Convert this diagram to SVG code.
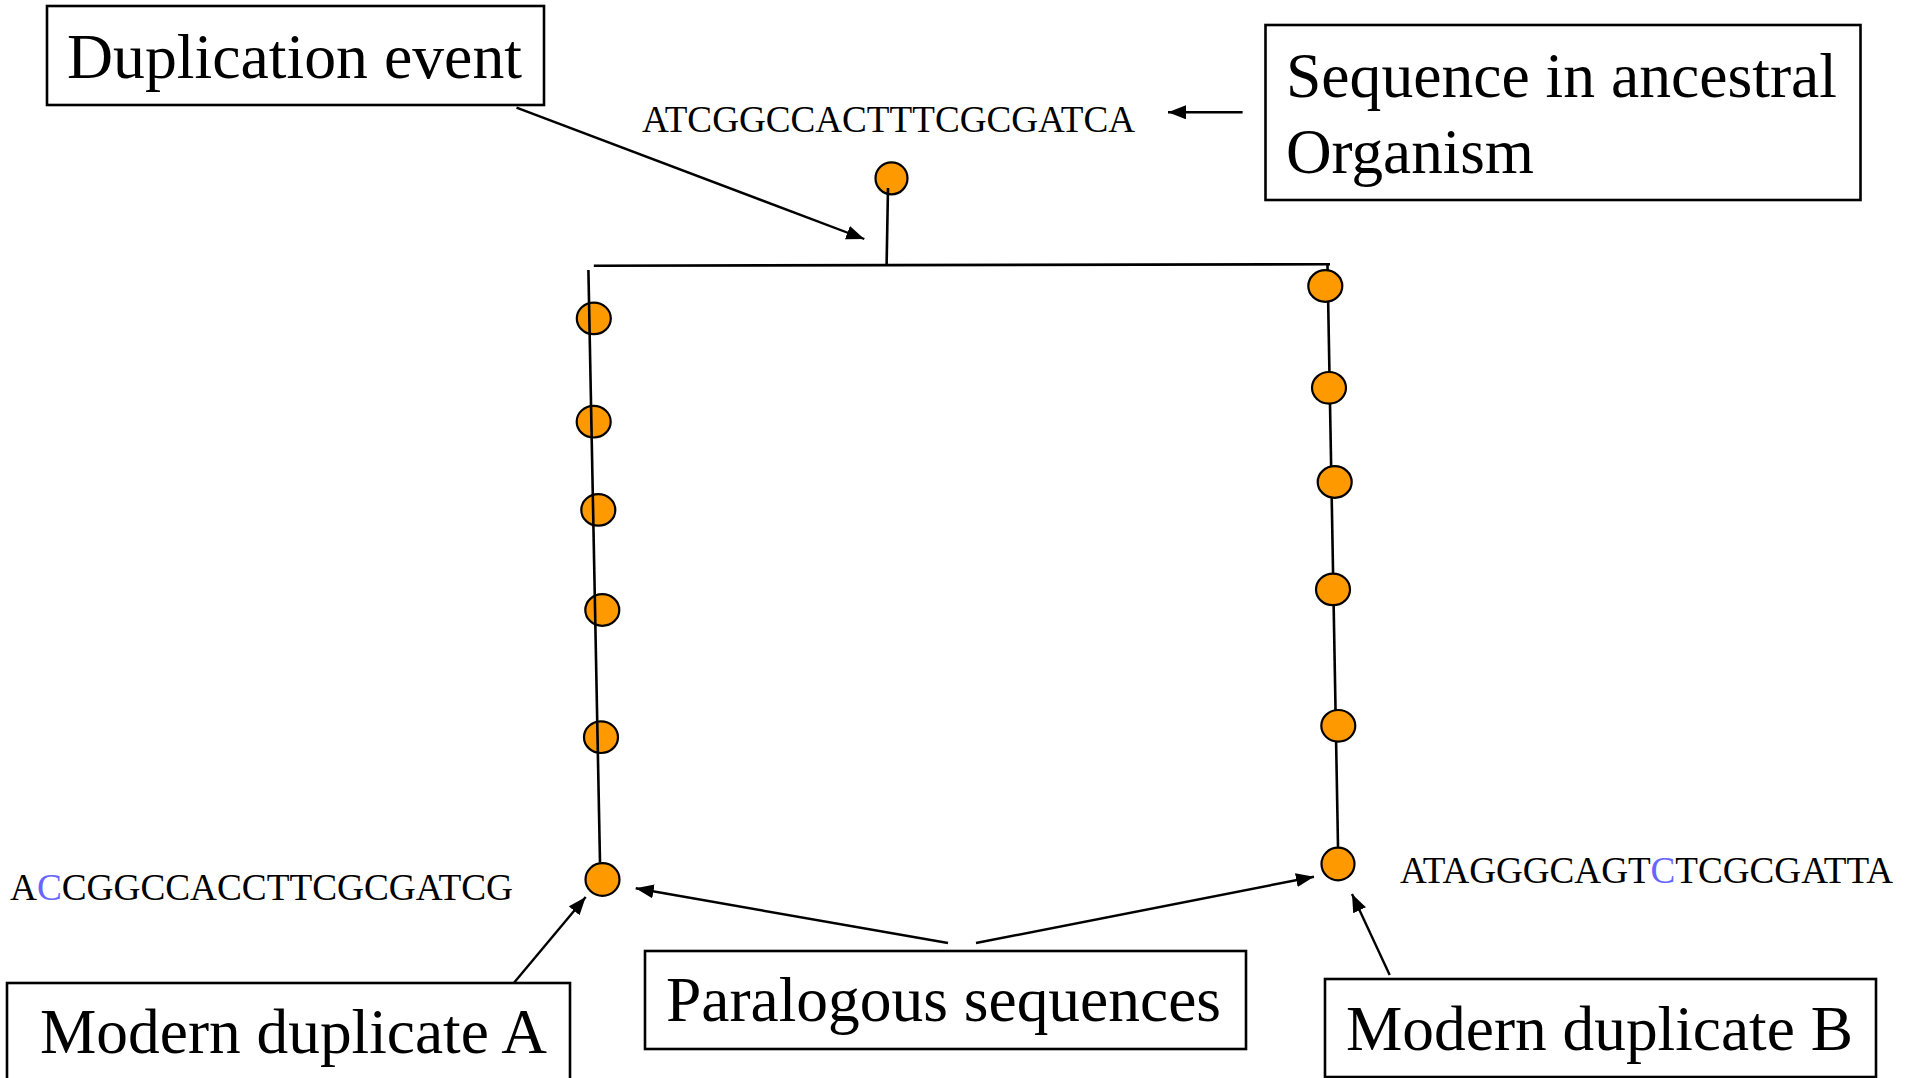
<svg xmlns="http://www.w3.org/2000/svg" width="1918" height="1078" viewBox="0 0 1918 1078">
  <style>
    .box { fill: #ffffff; stroke: #000000; stroke-width: 2.6; }
    .label { font-family: "Liberation Serif", "Times New Roman", serif; font-size: 63px; fill: #000000; }
    .seq { font-family: "Liberation Serif", "Times New Roman", serif; font-size: 37px; fill: #000000; }
    .mut { fill: #6666ff; }
    .branch { stroke: #000000; stroke-width: 2.6; fill: none; }
    .arrow { stroke: #000000; stroke-width: 2.4; fill: none; marker-end: url(#head); }
    .site { fill: #ff9900; stroke: #000000; stroke-width: 2.2; }
  </style>
  <defs>
    <marker id="head" markerUnits="userSpaceOnUse" markerWidth="20" markerHeight="16" refX="18" refY="7" orient="auto">
      <path d="M0,0 L18,7 L0,14 Z" fill="#000000"/>
    </marker>
  </defs>

  <rect width="1918" height="1078" fill="#ffffff"/>

  <!-- label boxes -->
  <g id="duplication-event">
    <rect class="box" x="47" y="6" width="497" height="99"/>
    <text class="label" x="67" y="78" textLength="455" lengthAdjust="spacingAndGlyphs">Duplication event</text>
  </g>

  <g id="ancestral-sequence-label">
    <rect class="box" x="1265.5" y="25" width="595" height="175"/>
    <text class="label" x="1286" y="97" textLength="551" lengthAdjust="spacingAndGlyphs">Sequence in ancestral</text>
    <text class="label" x="1286" y="173" textLength="248" lengthAdjust="spacingAndGlyphs">Organism</text>
  </g>

  <g id="modern-duplicate-a">
    <rect class="box" x="7" y="983" width="563" height="100"/>
    <text class="label" x="40" y="1053" textLength="507" lengthAdjust="spacingAndGlyphs">Modern duplicate A</text>
  </g>

  <g id="paralogous-sequences">
    <rect class="box" x="645" y="951" width="601" height="98"/>
    <text class="label" x="666" y="1021" textLength="555" lengthAdjust="spacingAndGlyphs">Paralogous sequences</text>
  </g>

  <g id="modern-duplicate-b">
    <rect class="box" x="1325" y="979" width="551" height="98"/>
    <text class="label" x="1346" y="1050" textLength="507" lengthAdjust="spacingAndGlyphs">Modern duplicate B</text>
  </g>

  <!-- sequences -->
  <g id="ancestral-sequence">
    <text class="seq" x="642" y="132" textLength="493" lengthAdjust="spacingAndGlyphs">ATCGGCCACTTTCGCGATCA</text>
  </g>
  <g id="sequence-a">
    <text class="seq" x="10" y="900" textLength="503" lengthAdjust="spacingAndGlyphs">A<tspan class="mut">C</tspan>CGGCCACCTTCGCGATCG</text>
  </g>
  <g id="sequence-b">
    <text class="seq" x="1400" y="883" textLength="493" lengthAdjust="spacingAndGlyphs">ATAGGGCAGT<tspan class="mut">C</tspan>TCGCGATTA</text>
  </g>

  <!-- ancestral node -->
  <g id="ancestor">
    <ellipse class="site" cx="891.5" cy="178.3" rx="16" ry="16"/>
    <line class="branch" x1="888" y1="188" x2="886.6" y2="265"/>
  </g>

  <!-- lineage A: mutation sites sit under the branch -->
  <g id="lineage-a">
    <ellipse class="site" cx="593.8" cy="318.4" rx="17" ry="15.8"/>
    <ellipse class="site" cx="593.7" cy="421.7" rx="17" ry="15.8"/>
    <ellipse class="site" cx="598.3" cy="509.9" rx="17" ry="15.8"/>
    <ellipse class="site" cx="602.3" cy="610" rx="17" ry="15.8"/>
    <ellipse class="site" cx="601" cy="737.2" rx="17" ry="15.8"/>
    <ellipse class="site" cx="602.5" cy="879.5" rx="17" ry="16.3"/>
    <line class="branch" x1="588.4" y1="270" x2="600" y2="862.4"/>
  </g>

  <!-- lineage B: mutation sites sit over the branch -->
  <g id="lineage-b">
    <line class="branch" x1="1327.5" y1="265" x2="1338.3" y2="863"/>
    <ellipse class="site" cx="1325.3" cy="286" rx="17" ry="15.8"/>
    <ellipse class="site" cx="1329" cy="387.8" rx="17" ry="15.8"/>
    <ellipse class="site" cx="1334.7" cy="482" rx="17" ry="15.8"/>
    <ellipse class="site" cx="1333" cy="589.4" rx="17" ry="15.8"/>
    <ellipse class="site" cx="1338.3" cy="725.8" rx="17" ry="15.8"/>
    <ellipse class="site" cx="1338" cy="864" rx="16.5" ry="16.3"/>
  </g>

  <!-- connectors -->
  <g id="connectors">
    <line class="branch" x1="593.8" y1="265.7" x2="1330" y2="264.3"/>
    <line class="arrow" x1="1242.6" y1="112.3" x2="1168" y2="112.3"/>
    <line class="arrow" x1="516.5" y1="107.7" x2="864.3" y2="239"/>
    <line class="arrow" x1="948" y1="943" x2="635.7" y2="888.3"/>
    <line class="arrow" x1="976" y1="943" x2="1314" y2="876.7"/>
    <line class="arrow" x1="514" y1="982.7" x2="585.7" y2="897"/>
    <line class="arrow" x1="1389.7" y1="975" x2="1352" y2="894"/>
  </g>
</svg>
